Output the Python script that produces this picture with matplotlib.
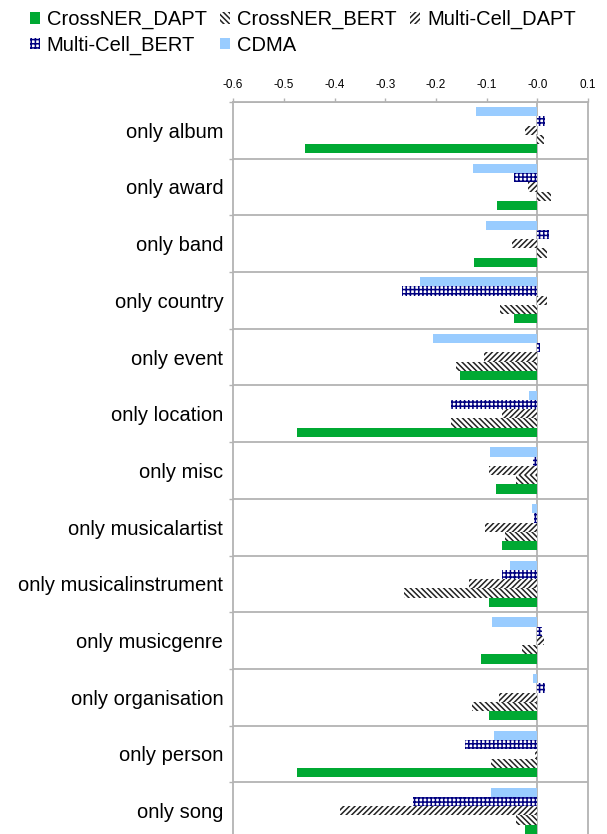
import numpy as np
import matplotlib
matplotlib.use("Agg")
import matplotlib.pyplot as plt
from matplotlib.patches import Patch

plt.rcParams['font.family'] = ['Liberation Sans', 'DejaVu Sans']
plt.rcParams['hatch.linewidth'] = 1.1

categories = ["only album", "only award", "only band", "only country", "only event",
              "only location", "only misc", "only musicalartist", "only musicalinstrument",
              "only musicgenre", "only organisation", "only person", "only song"]

cdma = [-0.121, -0.127, -0.101, -0.232, -0.206, -0.016, -0.094, -0.011, -0.054,
        -0.090, -0.009, -0.085, -0.092]
multicell_bert = [0.015, -0.047, 0.022, -0.267, 0.005, -0.171, -0.009, -0.007, -0.070,
                  0.008, 0.015, -0.142, -0.246]
multicell_dapt = [-0.024, -0.018, -0.050, 0.018, -0.106, -0.070, -0.096, -0.103, -0.135,
                  0.012, -0.076, -0.005, -0.390]
crossner_bert = [0.012, 0.026, 0.018, -0.073, -0.161, -0.171, -0.042, -0.063, -0.263,
                 -0.031, -0.129, -0.092, -0.042]
crossner_dapt = [-0.458, -0.080, -0.125, -0.047, -0.153, -0.474, -0.081, -0.070, -0.096,
                 -0.112, -0.095, -0.474, -0.024]

green = "#00a933"
light_blue = "#99ccff"
navy = "#000080"
hatch_col = "#222222"
grid_col = "#b3b3b3"

fig = plt.figure(figsize=(6.07, 8.34), dpi=100)
ax = fig.add_axes([0.384, -0.006, 0.585, 0.8838])

y = np.arange(len(categories))
h = 0.163

# top to bottom inside each group
styles = {
    "CDMA": dict(color=light_blue),
    "Multi-Cell_BERT": dict(facecolor="white", edgecolor=navy, hatch="++++"),
    "Multi-Cell_DAPT": dict(facecolor="white", edgecolor=hatch_col, hatch="//////"),
    "CrossNER_BERT": dict(facecolor="white", edgecolor=hatch_col, hatch="\\\\\\\\\\\\"),
    "CrossNER_DAPT": dict(color=green),
}
series = [("CDMA", cdma), ("Multi-Cell_BERT", multicell_bert),
          ("Multi-Cell_DAPT", multicell_dapt), ("CrossNER_BERT", crossner_bert),
          ("CrossNER_DAPT", crossner_dapt)]
for k, (name, vals) in enumerate(series):
    ax.barh(y + (k - 2) * h, vals, height=h, linewidth=0, zorder=3, **styles[name])

ax.set_xlim(-0.6, 0.1)
ax.set_ylim(len(categories) - 0.5, -0.5)

ax.xaxis.tick_top()
xt = np.arange(-0.6, 0.11, 0.1)
ax.set_xticks(xt)
ax.set_xticklabels(["%.1f" % v for v in xt], fontsize=8.5)
ax.tick_params(axis='x', length=3, width=1, color=grid_col, pad=5)

ax.set_yticks(y)
ax.set_yticklabels(categories, fontsize=14.5)
ax.tick_params(axis='y', which='major', length=0, pad=7)
ax.set_yticks(np.arange(-0.5, len(categories), 1.0), minor=True)
ax.tick_params(axis='y', which='minor', length=3, width=1, color=grid_col)
ax.grid(True, axis='y', which='minor', color=grid_col, linewidth=1.3, zorder=1)
ax.axvline(0, color=grid_col, linewidth=1.3, zorder=1)

for side in ['top', 'left', 'right']:
    ax.spines[side].set_color(grid_col)
    ax.spines[side].set_linewidth(1.3)
ax.spines['bottom'].set_visible(False)

# legend fills column-wise: two rows, three columns
order = ["CrossNER_DAPT", "Multi-Cell_BERT", "CrossNER_BERT", "CDMA", "Multi-Cell_DAPT"]
handles = [Patch(linewidth=0, label=n, **styles[n]) for n in order]
fig.legend(handles=handles, ncol=3, loc='upper left', bbox_to_anchor=(0.049, 0.988),
           frameon=False, fontsize=14.5, handlelength=0.5, handleheight=0.5,
           handletextpad=0.35, columnspacing=0.65, labelspacing=0.33, borderpad=0,
           borderaxespad=0)

fig.savefig("out.png", dpi=100)
